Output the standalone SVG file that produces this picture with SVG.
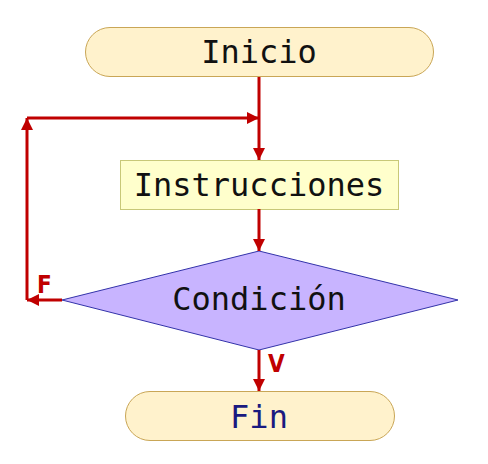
<svg xmlns="http://www.w3.org/2000/svg" width="488" height="464" viewBox="0 0 488 464">
<defs>
<style>
.t{font-family:"DejaVu Sans Mono",monospace;font-size:32px;text-anchor:middle;fill:#111}
.term{fill:#fff2cc;stroke:#c9a656;stroke-width:1}
.c{stroke:#c00000;stroke-width:3;fill:none}
.lbl{font-family:"DejaVu Sans Condensed","DejaVu Sans",sans-serif;font-weight:bold;font-size:24px;fill:#c00000}
</style>
<marker id="ah" viewBox="0 0 10 10" refX="10" refY="5" markerWidth="4" markerHeight="4" markerUnits="strokeWidth" orient="auto">
<path d="M0,0 L10,5 L0,10 z" fill="#c00000"/>
</marker>
</defs>
<rect width="488" height="464" fill="#fff"/>
<g id="inicio">
<rect class="term" x="85.5" y="27.5" width="348" height="49" rx="24.5"/>
<text class="t" x="259" y="63">Inicio</text>
</g>
<g id="instrucciones">
<rect x="120.5" y="160.5" width="278" height="49" fill="#ffffcc" stroke="#c8c878"/>
<text class="t" x="259" y="196">Instrucciones</text>
</g>
<g id="condicion">
<polygon points="259,251 458,300 259,350 62,300" fill="#c8b4ff" stroke="#3333aa" stroke-width="1"/>
<text class="t" x="259" y="310">Condición</text>
</g>
<g id="fin">
<rect class="term" x="125.5" y="391.5" width="269" height="49" rx="24.5"/>
<text class="t" x="259" y="428" style="fill:#1a1a80">Fin</text>
</g>
<g id="connectors">
<path class="c" d="M259,77 V160" marker-end="url(#ah)"/>
<path class="c" d="M259,209 V251" marker-end="url(#ah)"/>
<path class="c" d="M259,350 V391" marker-end="url(#ah)"/>
<path class="c" d="M62,300 H27" marker-end="url(#ah)"/>
<path class="c" d="M27,300 V118" marker-end="url(#ah)"/>
<path class="c" d="M27,118 H259" marker-end="url(#ah)"/>
<text class="lbl" x="37" y="293">F</text>
<text class="lbl" x="268" y="372">V</text>
</g>
</svg>
